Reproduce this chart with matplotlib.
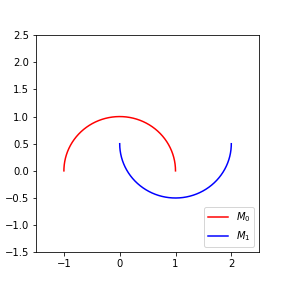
import numpy as np
import matplotlib
matplotlib.use('Agg')
import matplotlib.pyplot as plt

# two half-moons: centre, radius, start/end angle (degrees)
labels = ['$M_0$', '$M_1$']
colors = ['red', 'blue']
centers = [(0.0, 0.0), (1.0, 0.5)]
radii = [1.0, 1.0]
angles = [(0, 180), (180, 360)]

fig = plt.figure(figsize=(4, 4), dpi=72)
ax = fig.add_subplot(111)
fig.subplots_adjust(left=0.125, right=0.9, top=0.878, bottom=0.124)

for lab, c, (cx, cy), r, (a0, a1) in zip(labels, colors, centers, radii, angles):
    t = np.radians(np.linspace(a0, a1, 200))
    ax.plot(cx + r*np.cos(t), cy + r*np.sin(t), color=c, label=lab)

ax.set_xlim(-1.5, 2.5)
ax.set_ylim(-1.5, 2.5)
ax.set_xticks([-1, 0, 1, 2])
ax.legend(loc='lower right')
fig.savefig('out.png')
